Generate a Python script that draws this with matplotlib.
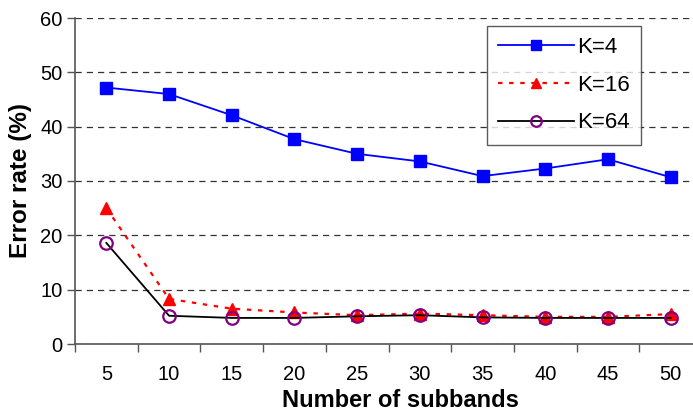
import matplotlib
matplotlib.use("Agg")
import matplotlib.pyplot as plt
import numpy as np

plt.rcParams['font.family'] = ['Liberation Sans', 'DejaVu Sans']

subbands = ["5", "10", "15", "20", "25", "30", "35", "40", "45", "50"]
k4 = [47.2, 46.0, 42.1, 37.7, 35.0, 33.6, 30.9, 32.3, 34.0, 30.7]
k16 = [25.0, 8.3, 6.5, 5.8, 5.3, 5.6, 5.3, 5.0, 5.0, 5.5]
k64 = [18.6, 5.2, 4.8, 4.8, 5.1, 5.3, 4.9, 4.8, 4.8, 4.8]
yticks = [0, 10, 20, 30, 40, 50, 60]

fig = plt.figure(figsize=(6.93, 4.11), dpi=100)
ax = fig.add_axes([75/693, 67/411, 627/693, 326/411])

x = np.arange(len(subbands))
ax.plot(x, k4, color='#0000ff', lw=1.3, marker='s', ms=9, mfc='#0000ff', mec='#0000ff', label='K=4', zorder=3)
ax.plot(x, k16, color='#ff0000', lw=1.6, ls=(0, (2, 3)), marker='^', ms=9, mfc='#ff0000', mec='#ff0000', label='K=16', zorder=3)
ax.plot(x, k64, color='black', lw=1.3, marker='o', ms=9, mfc='none', mec='#800080', mew=1.6, label='K=64', zorder=4)

ax.set_xlim(-0.5, len(subbands) - 0.5)
ax.set_ylim(0, 60)
ax.set_yticks(yticks)
ax.set_yticklabels([str(v) for v in yticks], fontsize=14.5)
ax.set_xticks(x)
ax.set_xticklabels(subbands, fontsize=14.5)
ax.set_xticks(np.arange(-0.5, len(subbands)), minor=True)
ax.tick_params(axis='x', which='major', length=0, pad=15)
ax.tick_params(axis='x', which='minor', length=6, color='#555555', width=1)
ax.tick_params(axis='y', length=6, color='#555555', width=1, pad=3)

ax.grid(axis='y', color='#333333', ls=(0, (5, 4)), lw=0.9)
ax.set_axisbelow(True)
for s in ['top', 'right']:
    ax.spines[s].set_visible(False)
for s in ['left', 'bottom']:
    ax.spines[s].set_color('#555555')
    ax.spines[s].set_linewidth(1.2)

ax.set_xlabel('Number of subbands', fontsize=17, fontweight='bold', labelpad=4)
ax.xaxis.label.set_x((400 - 75) / 627)
ax.set_ylabel('Error rate (%)', fontsize=17.5, fontweight='bold', labelpad=6)

leg = ax.legend(loc='upper left', bbox_to_anchor=((487-75)/627, (344-26)/326),
                fontsize=16, frameon=True, fancybox=False, edgecolor='#333333',
                handlelength=3.4, borderpad=0.5, labelspacing=0.75, handletextpad=0.15,
                borderaxespad=0, markerscale=0.85)
leg.get_frame().set_linewidth(1.0)

fig.savefig('out.png', dpi=100)
